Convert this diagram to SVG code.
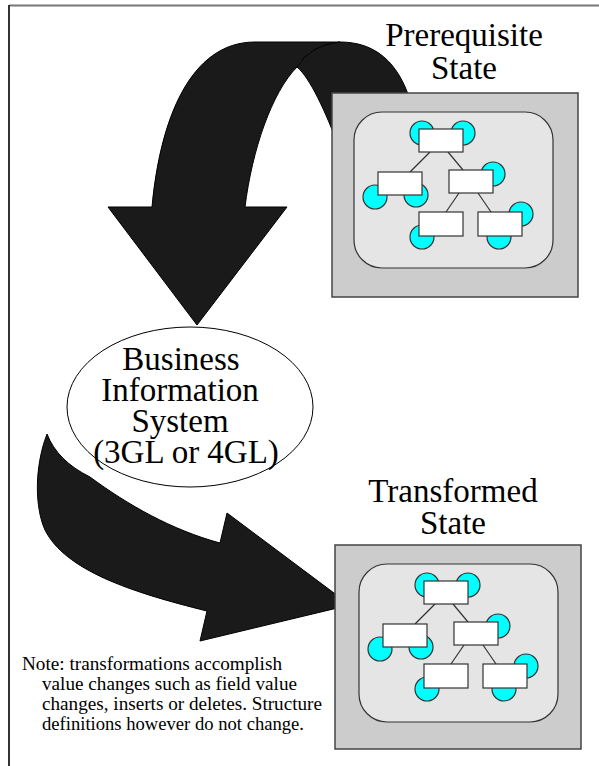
<svg xmlns="http://www.w3.org/2000/svg" xmlns:xlink="http://www.w3.org/1999/xlink" width="599" height="766" viewBox="0 0 599 766">
<style>
.t{font-family:"Liberation Serif","Times New Roman",serif;fill:#000}
.title{font-size:33px;text-anchor:middle}
.ell{font-size:33px;text-anchor:middle}
.note{font-size:19px}
.arrow{fill:#1a1a1a;stroke:#000;stroke-width:1;stroke-linejoin:round}
.outer{fill:#cccccc;stroke:#444;stroke-width:1.5}
.inner{fill:#e5e5e5;stroke:#333;stroke-width:1.2}
.c{fill:#00ffff;stroke:#333;stroke-width:1.2}
.r{fill:#fff;stroke:#333;stroke-width:1.2}
.l{stroke:#333;stroke-width:1.2;fill:none}
</style>
<defs>
<g id="tree">
<circle class="c" cx="422" cy="133" r="12"/>
<circle class="c" cx="463" cy="133" r="12"/>
<circle class="c" cx="375" cy="197" r="12"/>
<circle class="c" cx="416" cy="195" r="12"/>
<circle class="c" cx="493" cy="174" r="12"/>
<circle class="c" cx="422" cy="237" r="12"/>
<circle class="c" cx="521" cy="214" r="12"/>
<circle class="c" cx="499" cy="237" r="12"/>
<line class="l" x1="430" y1="152" x2="410" y2="172"/>
<line class="l" x1="448" y1="152" x2="463" y2="170"/>
<line class="l" x1="459" y1="193" x2="446" y2="212"/>
<line class="l" x1="478" y1="193" x2="491" y2="212"/>
<rect class="r" x="419" y="129" width="44" height="23"/>
<rect class="r" x="378" y="172" width="44" height="23"/>
<rect class="r" x="449" y="170" width="44" height="23"/>
<rect class="r" x="419" y="212" width="44" height="24"/>
<rect class="r" x="478" y="212" width="44" height="24"/>
</g>
</defs>
<rect width="599" height="766" fill="#fff"/>
<g id="frame">
<line x1="9" y1="5.5" x2="599" y2="5.5" stroke="#777" stroke-width="2"/>
<line x1="9" y1="5" x2="9" y2="766" stroke="#333" stroke-width="2"/>
</g>
<g id="connectors">
<path class="arrow" d="M108,207 L152,207 C160,120 190,42 255,42 L340,42 Q310,45 297,67 C272,92 252,150 245,207 L287,207 L197,325 Z"/>
<path class="arrow" d="M297,67 Q310,45 340,42 C375,42 398,62 410,100 L420,150 L340,150 C325,110 310,78 297,67 Z"/>
<path class="arrow" d="M47,434 C54,452 68,466 90,477 C128,505 172,530 220,543 L227,513 L350,605 L200,641 L207,611 C130,592 65,570 45,530 C35,508 34,468 47,434 Z"/>
</g>
<g id="prerequisite-state">
<rect class="outer" x="332" y="93" width="246" height="204"/>
<rect class="inner" x="354" y="112" width="199" height="156" rx="28"/>
<use xlink:href="#tree"/>
<text class="t title" x="464" y="46">Prerequisite</text>
<text class="t title" x="464" y="79">State</text>
</g>
<g id="business-information-system">
<ellipse cx="190" cy="407" rx="123" ry="80" fill="#fff" stroke="#000" stroke-width="1"/>
<text class="t ell" x="181" y="370">Business</text>
<text class="t ell" x="180" y="401">Information</text>
<text class="t ell" x="180" y="432">System</text>
<text class="t ell" x="186" y="463">(3GL or 4GL)</text>
</g>
<g id="transformed-state">
<rect class="outer" x="335" y="545" width="246" height="204"/>
<rect class="inner" x="359" y="564" width="199" height="158" rx="28"/>
<use xlink:href="#tree" transform="translate(5,452)"/>
<text class="t title" x="453" y="502">Transformed</text>
<text class="t title" x="453" y="534">State</text>
</g>
<g id="note">
<text class="t note" x="22" y="670" textLength="260" lengthAdjust="spacingAndGlyphs">Note: transformations accomplish</text>
<text class="t note" x="42" y="690" textLength="255" lengthAdjust="spacingAndGlyphs">value changes such as field value</text>
<text class="t note" x="42" y="710" textLength="280" lengthAdjust="spacingAndGlyphs">changes, inserts or deletes. Structure</text>
<text class="t note" x="42" y="730" textLength="262" lengthAdjust="spacingAndGlyphs">definitions however do not change.</text>
</g>
</svg>
